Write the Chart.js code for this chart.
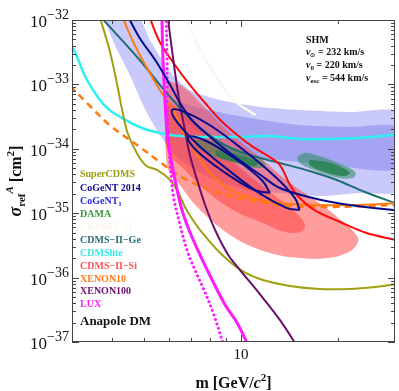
<!DOCTYPE html>
<html><head><meta charset="utf-8">
<script src="https://cdn.jsdelivr.net/npm/chart.js@4.4.1/dist/chart.umd.min.js"></script>
<style>html,body{margin:0;padding:0;background:#fff;}canvas{display:block;}</style>
</head><body>
<canvas id="c" width="399" height="391"></canvas>
<script>
// ---- data: [m in GeV/c^2, sigma_ref^A in cm^2] ----
const superCDMS = [[3.64,1.20e-32],[3.92,3.42e-33],[4.13,1.05e-33],[4.29,4.00e-34],[4.46,1.76e-34],[4.76,8.61e-35],[5.10,5.41e-35],[5.50,4.69e-35],[6.04,3.28e-35],[6.39,2.13e-35],[6.71,1.25e-35],[7.10,7.84e-36],[7.48,5.48e-36],[8.63,2.41e-36],[10.0,1.31e-36],[11.7,9.18e-37],[14.2,7.41e-37],[17.5,6.65e-37],[21.7,6.65e-37],[26.0,7.15e-37],[30.5,8.0e-37]];
const cdmsIIGe = [[3.61,1.24e-32],[4.86,2.39e-33],[6.04,6.37e-34],[7.48,2.10e-34],[9.27,1.03e-34],[11.5,7.20e-35],[13.2,6.03e-35],[16.7,4.37e-35],[19.8,3.28e-35],[24.2,2.13e-35],[30.5,1.40e-35]];
const cdmsLite = [[2.96,4.55e-33],[3.11,2.66e-33],[3.34,1.17e-33],[3.66,5.73e-34],[3.92,4.00e-34],[4.23,3.12e-34],[4.86,2.18e-34],[5.61,1.76e-34],[6.48,1.58e-34],[7.48,1.53e-34],[9.94,1.53e-34],[12.3,1.58e-34],[15.2,1.42e-34],[18.9,1.42e-34],[23.3,1.47e-34],[30.5,1.66e-34]];
const xenon10 = [[4.23,1.33e-32],[4.69,4.09e-33],[5.10,1.86e-33],[5.61,8.18e-34],[6.17,4.00e-34],[6.71,1.64e-34],[7.48,6.70e-35],[8.32,3.52e-35],[9.27,2.29e-35],[10.7,1.72e-35],[13.2,1.44e-35],[17.5,1.34e-35],[23.3,1.34e-35],[30.5,1.44e-35]];
const xenon10Alt = [[2.96,9.44e-34],[3.34,5.14e-34],[3.92,2.34e-34],[4.86,1.07e-34],[5.61,6.24e-35],[6.48,3.78e-35],[7.48,2.64e-35],[9.27,1.85e-35],[11.5,1.49e-35],[14.2,1.29e-35],[18.9,1.25e-35],[30.5,1.34e-35]];
const cdmsIISi = [[5.14,1.33e-32],[5.61,4.55e-33],[6.25,2.00e-33],[6.95,9.79e-34],[7.75,5.14e-34],[8.63,2.80e-34],[9.74,1.64e-34],[10.9,1.07e-34],[12.0,8.01e-35],[13.2,5.60e-35],[14.2,2.74e-35],[15.2,1.72e-35],[16.9,1.12e-35],[20.3,7.30e-36],[24.5,4.93e-36],[30.5,3.80e-36]];
const lux = [[5.69,1.33e-32],[5.74,2.39e-33],[5.82,5.73e-34],[5.91,1.76e-34],[6.08,6.70e-35],[6.30,2.74e-35],[6.57,1.12e-35],[6.95,5.11e-36],[7.48,2.24e-36],[8.15,9.18e-37],[8.94,3.76e-37],[9.74,1.97e-37],[10.7,7.5e-38]];
const luxAlt = [[5.86,1.33e-32],[5.91,2.39e-33],[5.91,5.73e-34],[5.95,1.76e-34],[6.04,5.60e-35],[6.17,1.92e-35],[6.48,6.56e-36],[6.81,2.69e-36],[7.21,1.31e-36],[7.64,6.90e-37],[8.21,2.82e-37],[8.94,7.5e-38]];
const xenon100 = [[5.91,1.33e-32],[6.12,3.42e-33],[6.30,1.17e-33],[6.48,4.79e-34],[6.71,1.96e-34],[6.95,8.01e-35],[7.32,3.28e-35],[7.75,1.34e-35],[8.32,5.48e-36],[9.14,2.24e-36],[9.94,1.31e-36],[11.5,5.37e-37],[13.2,2.20e-37],[15.2,7.5e-38]];
const cresst = [[6.71,1.20e-32],[7.48,3.42e-33],[8.32,1.40e-33],[9.47,5.73e-34],[11.1,3.35e-34]];
const cogent2014Limit = [[4.40,1.33e-32],[4.86,5.25e-33],[5.43,2.39e-33],[6.04,9.79e-34],[6.48,5.14e-34],[7.05,2.80e-34],[8.03,1.53e-34],[9.60,7.46e-35],[11.5,3.92e-35],[13.2,2.46e-35],[16.7,1.72e-35],[21.7,1.34e-35],[30.5,1.10e-35]];
const cogent2014Outer = [[15.2,1.12e-35],[13.9,1.20e-35],[11.5,1.99e-35],[9.14,4.69e-35],[7.32,1.19e-34],[6.34,2.61e-34],[6.12,4.00e-34],[6.71,3.72e-34],[8.09,2.26e-34],[10.2,9.57e-35],[12.7,3.78e-35],[14.7,1.72e-35]];
const cogent2014Inner = [[12.3,2.06e-35],[11.0,2.29e-35],[8.87,4.37e-35],[7.26,9.57e-35],[6.86,1.53e-34],[7.70,1.37e-34],[9.53,7.20e-35],[11.6,3.28e-35]];
const cogent1Outer = [[3.69,1.43e-32],[4.69,1.43e-32],[5.23,4.89e-33],[6.04,1.56e-33],[6.95,8.18e-34],[8.63,5.73e-34],[11.5,4.46e-34],[15.2,4.00e-34],[21.7,3.72e-34],[31.1,3.60e-34],[31.1,2.29e-35],[23.3,2.06e-35],[17.5,1.85e-35],[13.2,2.06e-35],[10.7,2.29e-35],[8.63,3.05e-35],[7.21,4.69e-35],[6.25,8.01e-35],[5.61,1.64e-34],[5.03,4.31e-34],[4.53,1.40e-33],[4.07,4.09e-33]];
const cogent1Inner = [[6.25,5.73e-34],[7.48,4.31e-34],[10.7,3.01e-34],[15.2,2.34e-34],[21.7,2.18e-34],[31.1,2.10e-34],[31.1,5.04e-35],[18.9,5.60e-35],[13.2,6.70e-35],[9.94,8.01e-35],[8.03,1.37e-34],[6.95,2.34e-34],[6.39,4.00e-34]];
const cdmsSiOuter = [[5.91,1.17e-33],[6.71,8.79e-34],[7.75,4.31e-34],[9.27,1.76e-34],[11.5,7.20e-35],[14.2,2.94e-35],[17.5,1.44e-35],[20.7,7.30e-36],[23.0,4.27e-36],[22.8,3.21e-36],[21.3,2.41e-36],[18.5,2.01e-36],[15.2,2.01e-36],[12.0,2.50e-36],[9.47,4.27e-36],[7.48,1.12e-35],[6.48,2.74e-35],[5.91,5.60e-35]];
const cdmsSiInner = [[5.91,5.73e-34],[6.71,3.35e-34],[8.03,1.37e-34],[9.94,5.04e-35],[12.3,2.13e-35],[14.7,1.04e-35],[15.8,6.56e-36],[15.2,5.11e-36],[13.7,5.11e-36],[11.5,7.30e-36],[9.47,1.12e-35],[7.75,2.29e-35],[6.71,4.69e-35],[5.91,9.57e-35]];
const damaLowOuter = [[7.10,1.37e-34],[7.75,1.37e-34],[8.94,1.15e-34],[10.3,8.91e-35],[11.6,6.70e-35],[11.9,5.41e-35],[11.1,5.04e-35],[9.60,6.03e-35],[8.32,7.46e-35],[7.35,1.03e-34]];
const damaLowInner = [[8.32,9.57e-35],[9.94,8.01e-35],[11.3,6.24e-35],[11.1,5.41e-35],[9.60,6.24e-35],[8.45,7.73e-35]];
const damaHighOuter = [[14.9,7.46e-35],[15.8,8.61e-35],[17.5,7.73e-35],[20.3,5.81e-35],[22.6,4.37e-35],[22.2,3.52e-35],[19.6,3.65e-35],[16.9,4.69e-35],[15.2,6.03e-35]];
const damaHighInner = [[16.3,6.70e-35],[18.9,6.03e-35],[21.7,4.37e-35],[21.0,3.78e-35],[18.2,4.37e-35],[16.3,5.60e-35]];

// ---- ticks / labels ----
const yDecades = [1e-32,1e-33,1e-34,1e-35,1e-36,1e-37];
const yTickExp = ['\u221232','\u221233','\u221234','\u221235','\u221236','\u221237'];
const xMajorTicks = [10];
const xMajorLabels = ['10'];
const xMinorTicks = [4,5,6,7,8,9,20];
const legendNames = ['SuperCDMS','CoGeNT 2014','CoGeNT','DAMA','CRESST\u2212II','CDMS\u2212II\u2212Ge','CDMSlite','CDMS\u2212II\u2212Si','XENON10','XENON100','LUX'];
const legendColors = ['#9c9c12','#0c0c88','#2a2ae6','#3a9a3a','#fdf6ea','#266e6e','#33e8e8','#ff5252','#ff7a1a','#6a106a','#ff22ff'];
const legendY = [174,188,201,214,227,240,253,266,279,291,304];

// ---- datasets ----
const P = a => a.map(p => ({x:p[0], y:p[1]}));
const closed = a => P(a.concat([a[0]]));
function line(arr, color, w, order, extra){
  return Object.assign({data:P(arr), borderColor:color, borderWidth:w, pointRadius:0, fill:false, tension:0.35, order, clip:0}, extra||{});
}
function shape(arr, color, order, t){
  return {data:closed(arr), borderColor:'rgba(0,0,0,0)', borderWidth:0, backgroundColor:color, fill:'shape', pointRadius:0, tension:(t===undefined?0.4:t), order, clip:0};
}
const datasets = [
  shape(cogent1Outer,'#c9c9fb',40,0.25),
  shape(cogent1Inner,'#a4a4f3',39,0.3),
  shape(cdmsSiOuter,'rgba(255,60,60,0.5)',38),
  shape(cdmsSiInner,'rgba(255,40,40,0.42)',37),
  shape(damaLowOuter,'rgba(40,140,90,0.55)',36),
  shape(damaLowInner,'rgba(35,125,75,0.8)',35),
  shape(damaHighOuter,'rgba(40,140,90,0.55)',34),
  shape(damaHighInner,'rgba(35,125,75,0.8)',33),
  line(cresst,'#fdf6ec',2.5,20),
  line(cdmsLite,'#2ef0f0',2.5,12),
  line(cdmsIIGe,'#1d6e6e',2,11),
  line(superCDMS,'#a0a012',2,10),
  line(xenon10,'#ff7a10',2,9),
  line(xenon10Alt,'#ff7a10',2.5,9,{borderDash:[7,5]}),
  line(cdmsIISi,'#ff0a0a',2,8),
  line(xenon100,'#6b0f6b',2,7),
  line(lux,'#ff1aff',3,6),
  line(luxAlt,'#ff1aff',3,6,{borderDash:[0.1,4.6], borderCapStyle:'round'}),
  line(cogent2014Limit,'#0a0a8c',2,5),
  Object.assign(line([],'#0a0a8c',2,4),{data:closed(cogent2014Outer), tension:0.4}),
  Object.assign(line([],'#0a0a8c',2,4),{data:closed(cogent2014Inner), tension:0.4})
];

function runs(ctx, x, y, parts){
  for (const p of parts){ ctx.font = p.f; if (p.c) ctx.fillStyle = p.c; ctx.fillText(p.t, x, y + (p.dy||0)); x += ctx.measureText(p.t).width; }
  return x;
}
function runsWidth(ctx, parts){ let w=0; for (const p of parts){ ctx.font=p.f; w+=ctx.measureText(p.t).width; } return w; }
const SERIF = '"Liberation Serif","Times New Roman",serif';
const B = s => 'bold '+s+'px '+SERIF;
const BI = s => 'italic bold '+s+'px '+SERIF;
const R = s => s+'px '+SERIF;

const overlay = {
  id:'overlay',
  afterDraw(chart){
    const ctx = chart.ctx, a = chart.chartArea, xs = chart.scales.x, ys = chart.scales.y;
    ctx.save();
    ctx.strokeStyle = '#444'; ctx.lineWidth = 1;
    ctx.strokeRect(a.left+0.5, a.top+0.5, a.right-a.left-1, a.bottom-a.top-1);
    ctx.beginPath();
    const hy = (v,len) => { const y = Math.round(ys.getPixelForValue(v))+0.5; ctx.moveTo(a.left,y); ctx.lineTo(a.left+len,y); ctx.moveTo(a.right,y); ctx.lineTo(a.right-len,y); };
    const vx = (v,len) => { const x = Math.round(xs.getPixelForValue(v))+0.5; ctx.moveTo(x,a.bottom); ctx.lineTo(x,a.bottom-len); ctx.moveTo(x,a.top); ctx.lineTo(x,a.top+len); };
    yDecades.forEach(v => hy(v,7));
    for (const d of yDecades.slice(1)) for (let k=2;k<=9;k++) hy(d*k,4);
    xMajorTicks.forEach(v => vx(v,7));
    xMinorTicks.forEach(v => vx(v,4));
    ctx.stroke();
    // y tick labels
    ctx.fillStyle = '#111'; ctx.textBaseline = 'alphabetic'; ctx.textAlign = 'left';
    yDecades.forEach((v,i) => {
      const y = ys.getPixelForValue(v);
      const parts = [{t:'10', f:R(17), dy:7},{t:yTickExp[i], f:R(14), dy:-1}];
      runs(ctx, 69 - runsWidth(ctx, parts), y, parts);
    });
    xMajorTicks.forEach((v,i) => {
      ctx.font = R(15); ctx.textAlign='center';
      ctx.fillText(xMajorLabels[i], xs.getPixelForValue(v), 359);
      ctx.textAlign='left';
    });
    // axis titles
    const xt = [{t:'m [GeV/',f:B(16)},{t:'c',f:BI(16)},{t:'2',f:B(11),dy:-7},{t:']',f:B(16)}];
    runs(ctx, (a.left+a.right)/2 - runsWidth(ctx,xt)/2, 388, xt);
    ctx.save();
    ctx.translate(21, (a.top+a.bottom)/2); ctx.rotate(-Math.PI/2);
    const yt = [{t:'\u03c3',f:BI(18)},{t:'ref',f:B(11),dy:4},{t:'A',f:BI(11),dy:-8},{t:' [cm',f:B(16)},{t:'2',f:B(11),dy:-7},{t:']',f:B(16)}];
    runs(ctx, -runsWidth(ctx,yt)/2, 0, yt);
    ctx.restore();
    // legend labels
    ctx.textBaseline = 'middle';
    legendNames.forEach((n,i) => {
      const parts = [{t:n, f:B(10), c:legendColors[i]}];
      if (n === 'CoGeNT') parts.push({t:'1', f:B(7), dy:3});
      runs(ctx, 80, legendY[i], parts);
    });
    runs(ctx, 80, 322, [{t:'Anapole DM', f:B(13), c:'#111'}]);
    // SHM box
    ctx.fillStyle = '#111';
    runs(ctx, 306, 40, [{t:'SHM', f:B(10)}]);
    runs(ctx, 306, 52, [{t:'v',f:BI(10)},{t:'\u2299',f:B(6),dy:3},{t:' = 232 km/s',f:B(10)}]);
    runs(ctx, 306, 65, [{t:'v',f:BI(10)},{t:'0',f:B(7),dy:3},{t:' = 220 km/s',f:B(10)}]);
    runs(ctx, 306, 78, [{t:'v',f:BI(10)},{t:'esc',f:B(7),dy:3},{t:' = 544 km/s',f:B(10)}]);
    ctx.restore();
  }
};

new Chart(document.getElementById('c'), {
  type:'line',
  data:{datasets},
  options:{
    responsive:false, animation:false, devicePixelRatio:1,
    layout:{padding:{left:72, top:20, right:4, bottom:49}},
    plugins:{legend:{display:false}, tooltip:{enabled:false}},
    elements:{line:{capBezierPoints:false}},
    scales:{
      x:{type:'logarithmic', min:3, max:30, display:false},
      y:{type:'logarithmic', min:1e-37, max:1e-32, display:false}
    }
  },
  plugins:[overlay]
});
</script>
</body></html>
